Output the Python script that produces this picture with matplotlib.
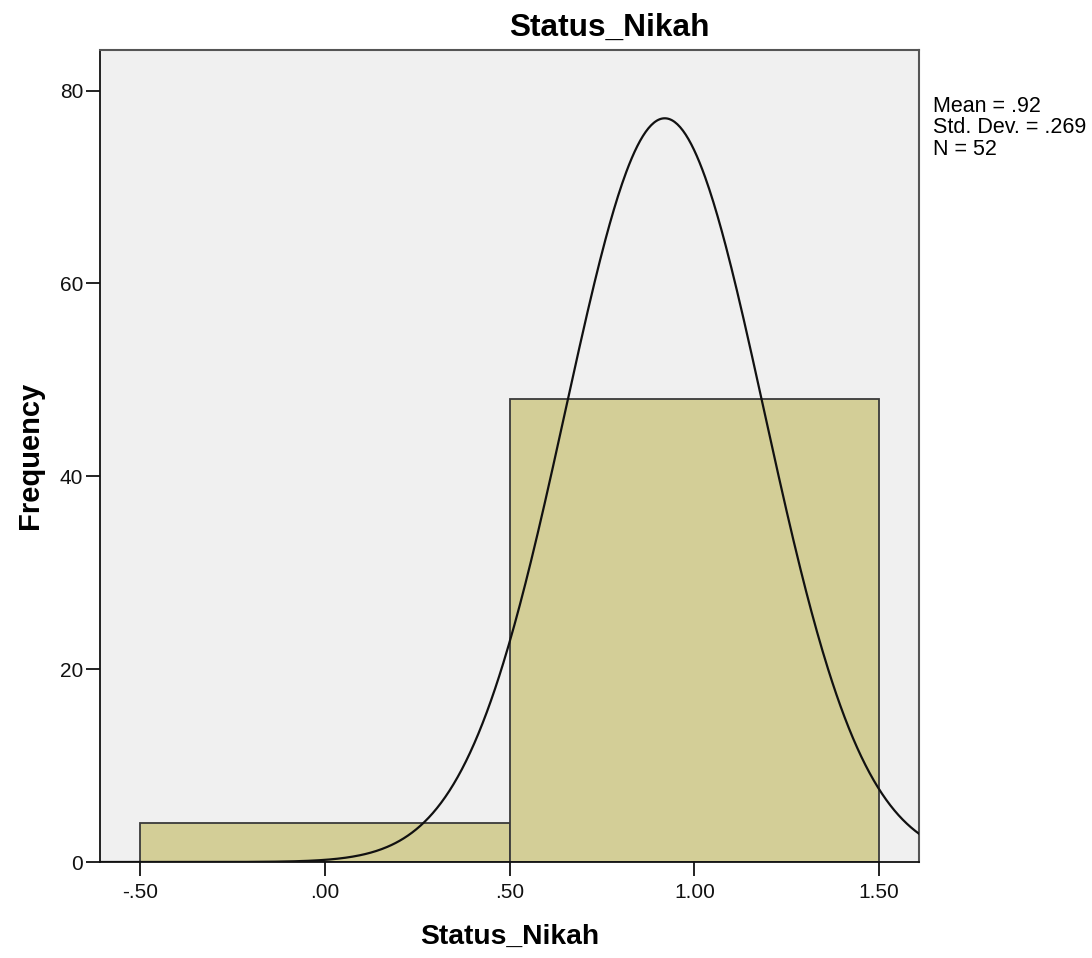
import matplotlib.pyplot as plt
import numpy as np

plt.rcParams["font.family"] = ["Liberation Sans", "DejaVu Sans"]

bin_edges = [-0.5, 0.5, 1.5]
counts = [4, 48]
mean = 0.92
std_dev = 0.269
n_obs = 52
x_ticks = [-0.5, 0.0, 0.5, 1.0, 1.5]
x_tick_labels = ["-.50", ".00", ".50", "1.00", "1.50"]
y_ticks = [0, 20, 40, 60, 80]


def main() -> None:
    fig = plt.figure(figsize=(10.92, 9.58), dpi=100)
    ax = fig.add_axes([0.0916, 0.1002, 0.75, 0.8476])
    ax.set_facecolor("#f0f0f0")

    widths = np.diff(bin_edges)
    ax.bar(bin_edges[:-1], counts, width=widths, align="edge",
           color="#d3ce97", edgecolor="#3a3a3a", linewidth=1.3, zorder=2)

    # normal curve scaled to the histogram
    xs = np.linspace(-0.62, 1.62, 600)
    bw = widths[0]
    ys = n_obs * bw / (std_dev * np.sqrt(2 * np.pi)) * np.exp(-0.5 * ((xs - mean) / std_dev) ** 2)
    ax.plot(xs, ys, color="#111111", linewidth=1.6, zorder=3)

    ax.set_xlim(-0.608, 1.608)
    ax.set_ylim(0, 84.2)
    ax.set_xticks(x_ticks)
    ax.set_xticklabels(x_tick_labels)
    ax.set_yticks(y_ticks)
    ax.tick_params(direction="out", length=10, width=1.3, labelsize=15, colors="#111111")
    ax.tick_params(axis="x", pad=5)
    ax.tick_params(axis="y", pad=2)

    for side in ("left", "bottom"):
        ax.spines[side].set_color("#111111")
        ax.spines[side].set_linewidth(1.3)
    for side in ("top", "right"):
        ax.spines[side].set_color("#555555")
        ax.spines[side].set_linewidth(1.5)

    fig.text(609 / 1092, 1 - 28 / 958, "Status_Nikah", fontsize=22.8, fontweight="bold",
             ha="center", va="center")
    fig.text(510 / 1092, 1 - 937 / 958, "Status_Nikah", fontsize=20.3, fontweight="bold",
             ha="center", va="center")
    fig.text(30 / 1092, 1 - 455 / 958, "Frequency", fontsize=21, fontweight="bold",
             ha="center", va="center", rotation=90)

    stats = f"Mean = .{int(round(mean * 100))}\nStd. Dev. = .{int(round(std_dev * 1000))}\nN = {n_obs}"
    fig.text(0.854, 1 - 96 / 958, stats, fontsize=15.5, va="top", ha="left", linespacing=1.03)

    fig.savefig("out.png", dpi=100)


if __name__ == "__main__":
    main()
